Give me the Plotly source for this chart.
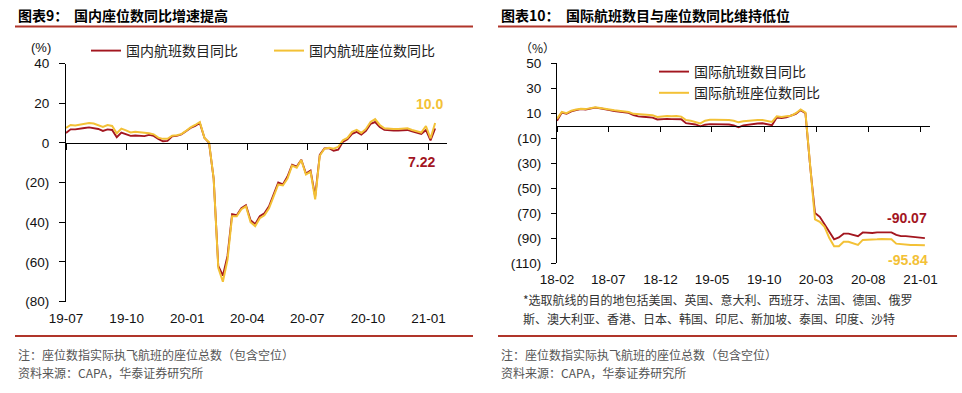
import pandas as pd
import plotly.graph_objects as go

W, H = 962, 393

# ---------------- data: left chart (weekly, domestic) ----------------
dom_dates = pd.date_range("2019-07-01", periods=81, freq="7D")
dom_flights_yoy = [
    5.0, 6.8, 6.8, 7.0, 7.5, 7.8, 7.5, 7.0, 6.0, 6.8,
    6.5, 2.8, 5.2, 4.5, 3.5, 3.7, 3.6, 3.4, 4.0, 3.5,
    2.0, 0.8, 1.0, 3.3, 3.5, 4.2, 5.8, 7.5, 8.5, 10.0,
    2.5, 0.0, -18, -62, -67, -57, -36, -36.5, -33, -31.5,
    -39, -41, -37, -35.5, -32, -26, -20, -21, -17, -11,
    -12, -8.5, -15.5, -14, -27, -6, -2.8, -2.7, -4.0, -3.5,
    0.5, 1.8, 4.5, 5.5, 4.2, 6.0, 9.5, 10.5, 8.0, 6.5,
    6.2, 6.2, 6.2, 6.3, 6.5, 5.8, 5.0, 4.5, 6.5, 1.2,
    7.22,
]
dom_seats_yoy = [
    7.5, 9.0, 8.8, 9.2, 9.8, 10.0, 9.7, 9.0, 8.0, 9.0,
    8.5, 4.8, 7.2, 6.3, 5.2, 5.6, 5.5, 5.1, 4.8, 4.3,
    2.6, 2.0, 2.0, 3.6, 3.8, 4.4, 6.0, 7.8, 9.0, 10.5,
    2.5, 0.3, -18, -63, -70, -59, -37, -37, -33.5, -32,
    -40, -42, -38, -36.5, -33, -27, -21, -21.5, -18, -11.5,
    -12.5, -8.7, -16, -14.5, -28.5, -6.5, -3.0, -2.5, -3.0, -2.0,
    1.3, 2.5, 5.5, 6.5, 5.0, 7.0, 10.5, 12.0, 9.0, 7.3,
    7.0, 7.0, 7.0, 7.1, 7.3, 6.5, 5.8, 5.2, 8.5, 2.2,
    10.0,
]
dom_tick_dates = ["2019-07-01", "2019-10-01", "2020-01-01", "2020-04-01",
                  "2020-07-01", "2020-10-01", "2021-01-01"]
dom_tick_labels = ["19-07", "19-10", "20-01", "20-04", "20-07", "20-10", "21-01"]
dom_y_ticks = [-80, -60, -40, -20, 0, 20, 40]
dom_y_labels = ["(80)", "(60)", "(40)", "(20)", "0", "20", "40"]
dom_end_labels = ["7.22", "10.0"]

# ---------------- data: right chart (bi-weekly, international) ----------------
intl_dates = pd.date_range("2018-02-01", periods=78, freq="14D")
intl_flights_yoy = [
    4.0, 10.5, 9.5, 11.5, 12.5, 13.3, 13.0, 13.8, 14.5, 14.0,
    13.5, 12.5, 11.8, 11.2, 11.0, 10.3, 8.5, 7.5, 7.2, 6.8,
    6.5, 5.0, 5.3, 5.5, 5.3, 5.5, 5.2, 2.0, 1.3, 1.0,
    -0.5, 0.8, 1.3, 1.2, 1.0, 1.3, 1.0, 0.3, -1.3, 0.3,
    1.0, 1.3, 1.8, 2.0, 1.0, 0.5, 6.5, 6.2, 6.8, 8.0,
    9.5, 12.5, 10.0, -33, -70, -73, -79, -85, -91, -89.5,
    -86.5, -86.5, -87.5, -88.5, -85.5, -86, -86, -85.5, -85.3, -85.3,
    -85.5, -87.5, -88.5, -88.5, -89, -89.3, -89.8, -90.07,
]
intl_seats_yoy = [
    5.5, 11.0, 10.0, 12.0, 13.0, 13.5, 13.3, 14.0, 14.8, 14.2,
    13.8, 13.0, 12.3, 11.8, 11.5, 11.0, 9.5, 9.3, 8.8, 8.5,
    8.3, 7.0, 7.5, 7.8, 7.5, 7.8, 7.3, 4.5, 4.0, 3.2,
    1.8, 4.0, 4.8, 4.8, 4.7, 4.8, 4.5, 4.0, 2.7, 3.5,
    4.0, 4.3, 4.5, 4.5, 3.5, 3.0, 7.5, 7.0, 7.5, 8.0,
    10.0, 13.0, 10.5, -33, -75, -77, -81, -90, -96.5, -96.5,
    -93, -93, -94.5, -95.5, -91.5, -91.5, -91.5, -91, -90.7, -90.7,
    -91, -94.5, -95, -95.2, -95.5, -95.6, -95.8, -95.84,
]
intl_tick_dates = ["2018-02-01", "2018-07-01", "2018-12-01", "2019-05-01",
                   "2019-10-01", "2020-03-01", "2020-08-01", "2021-01-01"]
intl_tick_labels = ["18-02", "18-07", "18-12", "19-05", "19-10", "20-03", "20-08", "21-01"]
intl_y_ticks = [-110, -90, -70, -50, -30, -10, 10, 30, 50]
intl_y_labels = ["(110)", "(90)", "(70)", "(50)", "(30)", "(10)", "10", "30", "50"]
intl_end_labels = ["-90.07", "-95.84"]

# ---------------- styling ----------------
RED = "#A3161F"
YEL = "#F3C136"
RULE = "#B0352A"
NUM = "Liberation Sans, Arial, sans-serif"
CJK = "Noto Sans CJK SC, sans-serif"


def px(x):
    return x / W


def py(y):
    return 1 - y / H


fig = go.Figure()

fig.add_trace(go.Scatter(x=dom_dates, y=dom_flights_yoy, mode="lines", name="国内航班数目同比",
                         line=dict(color=RED, width=1.9), xaxis="x", yaxis="y", legend="legend"))
fig.add_trace(go.Scatter(x=dom_dates, y=dom_seats_yoy, mode="lines", name="国内航班座位数同比",
                         line=dict(color=YEL, width=2.0), xaxis="x", yaxis="y", legend="legend"))
fig.add_trace(go.Scatter(x=intl_dates, y=intl_flights_yoy, mode="lines", name="国际航班数目同比",
                         line=dict(color=RED, width=1.9), xaxis="x2", yaxis="y2", legend="legend2"))
fig.add_trace(go.Scatter(x=intl_dates, y=intl_seats_yoy, mode="lines", name="国际航班座位数同比",
                         line=dict(color=YEL, width=2.0), xaxis="x2", yaxis="y2", legend="legend2"))
# invisible carriers so that the zero-line axes (with their tick marks) are drawn
fig.add_trace(go.Scatter(x=dom_dates, y=dom_seats_yoy, mode="lines", opacity=0, showlegend=False,
                         hoverinfo="skip", line=dict(width=0), xaxis="x3", yaxis="y"))
fig.add_trace(go.Scatter(x=intl_dates, y=intl_seats_yoy, mode="lines", opacity=0, showlegend=False,
                         hoverinfo="skip", line=dict(width=0), xaxis="x4", yaxis="y2"))

# geometry (pixels)
L_X0, L_X1, L_YT, L_YB = 66, 447, 63.5, 301.5
R_X0, R_X1, R_YT, R_YB = 557, 930, 63.3, 263.0
dom_range = ["2019-07-01", "2021-01-29"]
intl_range = ["2018-02-01", "2021-01-29"]

l_dom_y = [py(L_YB), py(L_YT)]
r_dom_y = [py(R_YB), py(R_YT)]
l_zero = l_dom_y[0] + (0 - dom_y_ticks[0]) / (dom_y_ticks[-1] - dom_y_ticks[0]) * (l_dom_y[1] - l_dom_y[0])
r_zero = r_dom_y[0] + (0 - intl_y_ticks[0]) / (intl_y_ticks[-1] - intl_y_ticks[0]) * (r_dom_y[1] - r_dom_y[0])

tickfont = dict(family=NUM, size=13.5, color="#111")

fig.update_layout(
    width=W, height=H, margin=dict(l=0, r=0, t=0, b=0, pad=0, autoexpand=False),
    paper_bgcolor="white", plot_bgcolor="rgba(0,0,0,0)",
    showlegend=True,
    xaxis=dict(domain=[px(L_X0), px(L_X1)], anchor="y", type="date", range=dom_range,
               tickvals=dom_tick_dates, ticktext=dom_tick_labels, ticks="outside", ticklen=4,
               tickcolor="rgba(0,0,0,0)", showline=False, showgrid=False, zeroline=False,
               tickfont=tickfont, automargin=False),
    yaxis=dict(domain=l_dom_y, anchor="x", range=[dom_y_ticks[0], dom_y_ticks[-1]],
               tickvals=dom_y_ticks, ticktext=dom_y_labels, ticks="outside", ticklen=6,
               tickcolor="#000", showline=True, linecolor="#000", linewidth=1,
               showgrid=False, zeroline=False, tickfont=tickfont, ticklabelstandoff=7,
               automargin=False),
    xaxis3=dict(overlaying="x", matches="x", anchor="free", position=l_zero, type="date",
                tickvals=dom_tick_dates, showticklabels=False, ticks="outside", ticklen=6,
                tickcolor="#000", showline=True, linecolor="#000", linewidth=1.3,
                showgrid=False, zeroline=False, automargin=False),
    xaxis2=dict(domain=[px(R_X0), px(R_X1)], anchor="y2", type="date", range=intl_range,
                tickvals=intl_tick_dates, ticktext=intl_tick_labels, ticks="outside", ticklen=4,
                tickcolor="rgba(0,0,0,0)", showline=False, showgrid=False, zeroline=False,
                tickfont=tickfont, automargin=False),
    yaxis2=dict(domain=r_dom_y, anchor="x2", range=[intl_y_ticks[0], intl_y_ticks[-1]],
                tickvals=intl_y_ticks, ticktext=intl_y_labels, ticks="outside", ticklen=5,
                tickcolor="#000", showline=True, linecolor="#000", linewidth=1,
                showgrid=False, zeroline=False, tickfont=tickfont, ticklabelstandoff=7,
                automargin=False),
    xaxis4=dict(overlaying="x2", matches="x2", anchor="free", position=r_zero, type="date",
                tickvals=intl_tick_dates, showticklabels=False, ticks="outside", ticklen=5,
                tickcolor="#000", showline=True, linecolor="#000", linewidth=1.3,
                showgrid=False, zeroline=False, automargin=False),
    legend=dict(orientation="h", x=px(86), y=py(35), xanchor="left", yanchor="top",
                font=dict(family=CJK, size=14, color="#222"), bgcolor="rgba(0,0,0,0)",
                entrywidth=138, entrywidthmode="pixels", itemwidth=30),
    legend2=dict(orientation="v", x=px(654), y=py(56), xanchor="left", yanchor="top",
                 font=dict(family=CJK, size=14, color="#222"), bgcolor="rgba(0,0,0,0)",
                 itemwidth=30, tracegroupgap=0),
)

ann = []


def text(x, y, s, size=14, color="#000", family=CJK, xanchor="left"):
    ann.append(dict(xref="paper", yref="paper", x=px(x), y=py(y), text=s, showarrow=False,
                    xanchor=xanchor, yanchor="middle", font=dict(family=family, size=size, color=color)))


# titles
text(16, 15, "<b>图表9：</b>", 14)
text(72, 15, "<b>国内座位数同比增速提高</b>", 14)
text(499, 15, "<b>图表10：</b>", 14)
text(564, 15, "<b>国际航班数目与座位数同比维持低位</b>", 14)
# units
text(41, 47, "(%)", 13, "#111", NUM, "center")
text(537, 47, "（%）", 12, "#111", CJK, "center")
# notes
NOTE = "#555"
text(16, 354, "注：座位数指实际执飞航班的座位总数（包含空位）", 12, NOTE)
text(16, 372, "资料来源：CAPA，华泰证券研究所", 12, NOTE)
text(499, 354, "注：座位数指实际执飞航班的座位总数（包含空位）", 12, NOTE)
text(499, 372, "资料来源：CAPA，华泰证券研究所", 12, NOTE)
# footnote on destinations
text(521, 299, "*选取航线的目的地包括美国、英国、意大利、西班牙、法国、德国、俄罗", 12, "#333")
text(521, 318, "斯、澳大利亚、香港、日本、韩国、印尼、新加坡、泰国、印度、沙特", 12, "#333")


# end-value labels tied to the last data points
def end_label(xref, yref, xv, yv, s, color, xs, ys):
    ann.append(dict(xref=xref, yref=yref, x=xv, y=yv, text=f"<b>{s}</b>", showarrow=False,
                    xanchor="center", yanchor="middle", xshift=xs, yshift=ys,
                    font=dict(family=NUM, size=14, color=color)))


end_label("x", "y", dom_dates[-1], dom_seats_yoy[-1], dom_end_labels[1], YEL, -6, 19)
end_label("x", "y", dom_dates[-1], dom_flights_yoy[-1], dom_end_labels[0], RED, -14, -33)
end_label("x2", "y2", intl_dates[-1], intl_flights_yoy[-1], intl_end_labels[0], RED, -18, 20)
end_label("x2", "y2", intl_dates[-1], intl_seats_yoy[-1], intl_end_labels[1], YEL, -17, -15)

fig.update_layout(annotations=ann)

shapes = []
for (x0, x1) in [(15, 473), (498, 957)]:
    for yy in (26.5, 336):
        shapes.append(dict(type="line", xref="paper", yref="paper", x0=px(x0), x1=px(x1),
                           y0=py(yy), y1=py(yy), line=dict(color=RULE, width=2.2)))
fig.update_layout(shapes=shapes)

fig.write_html("out.html", config={"displayModeBar": False},
               post_script="document.body.style.margin='0';document.body.style.padding='0';")
